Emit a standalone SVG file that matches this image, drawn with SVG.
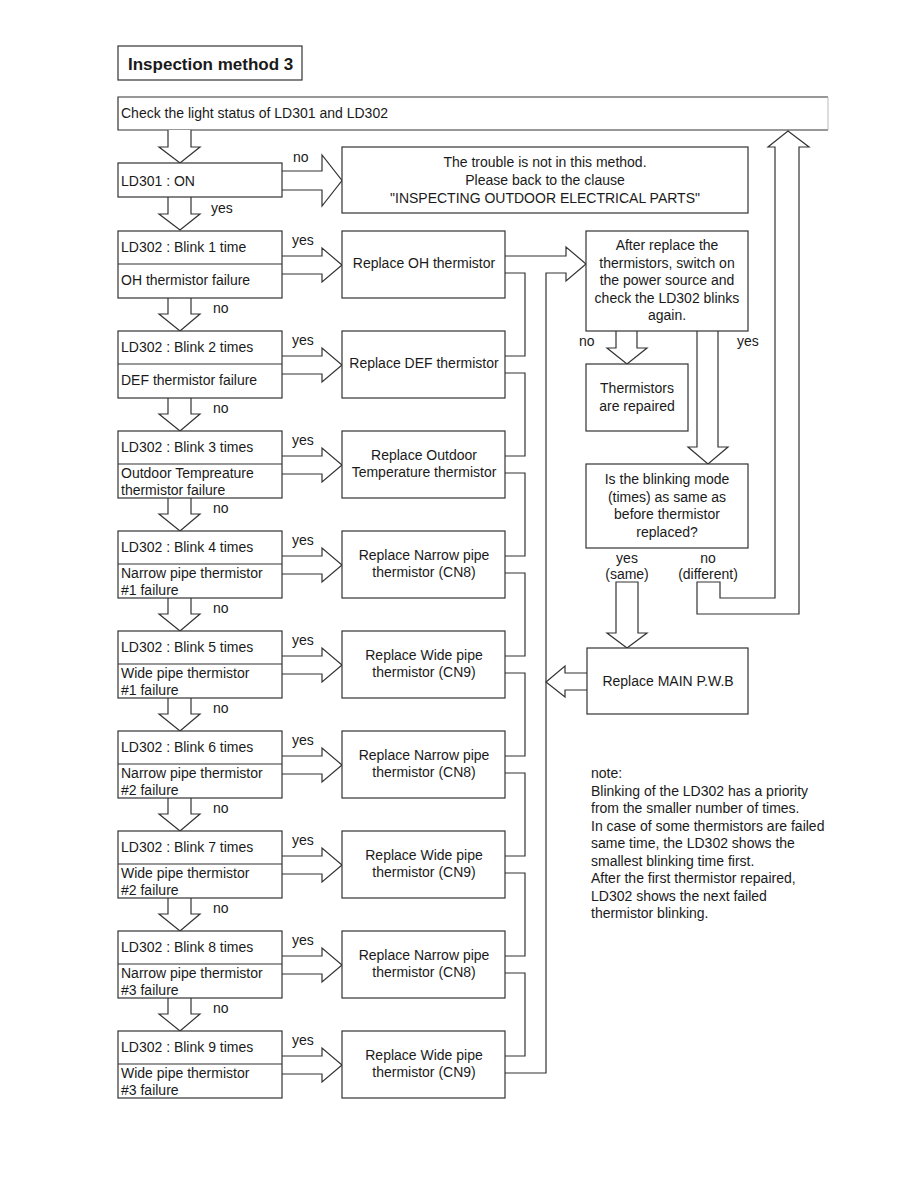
<svg xmlns="http://www.w3.org/2000/svg" width="918" height="1188" viewBox="0 0 918 1188">
<style>
.b{fill:#fff;stroke:#333;stroke-width:1.2}
.ln{fill:none;stroke:#333;stroke-width:1.2}
.ar{fill:#fff;stroke:#333;stroke-width:1.2;stroke-linejoin:miter}
text{font-family:"Liberation Sans",Arial,Helvetica,sans-serif;font-size:14px;fill:#1a1a1a}
.c{text-anchor:middle}
.title{font-size:17px;font-weight:bold}
</style>
<rect width="918" height="1188" fill="#fff"/>

<g id="title">
<rect class="b" x="118" y="46" width="184" height="34"/>
<text class="title" x="128" y="70">Inspection method 3</text>
</g>

<g id="check">
<rect x="118" y="97" width="710" height="33" fill="#fff"/>
<path class="ln" d="M828,97 H118 V130 H828"/>
<path d="M828,97 V130" fill="none" stroke="#bbb" stroke-width="1"/>
<text x="121" y="118">Check the light status of LD301 and LD302</text>
</g>

<g id="connectors">
<path class="ar" d="M168,130 V147 H159 L180,163 L200,147 H191 V130"/>
<path class="ar" d="M282,171 H322 V155 L342,180.5 L322,206 V190 H282"/>
<text x="293" y="162">no</text>
<path class="ar" d="M168,197 V214 H159 L180,230 L200,214 H191 V197"/>
<text x="211" y="213">yes</text>

<path class="ar" d="M282,256 H322 V248 L342,265 L322,282 V274 H282"/>
<path class="ar" d="M282,356 H322 V348 L342,365 L322,382 V374 H282"/>
<path class="ar" d="M282,456 H322 V448 L342,465 L322,482 V474 H282"/>
<path class="ar" d="M282,556 H322 V548 L342,565 L322,582 V574 H282"/>
<path class="ar" d="M282,656 H322 V648 L342,665 L322,682 V674 H282"/>
<path class="ar" d="M282,756 H322 V748 L342,765 L322,782 V774 H282"/>
<path class="ar" d="M282,856 H322 V848 L342,865 L322,882 V874 H282"/>
<path class="ar" d="M282,956 H322 V948 L342,965 L322,982 V974 H282"/>
<path class="ar" d="M282,1056 H322 V1048 L342,1065 L322,1082 V1074 H282"/>
<text x="292" y="245">yes</text>
<text x="292" y="345">yes</text>
<text x="292" y="445">yes</text>
<text x="292" y="545">yes</text>
<text x="292" y="645">yes</text>
<text x="292" y="745">yes</text>
<text x="292" y="845">yes</text>
<text x="292" y="945">yes</text>
<text x="292" y="1045">yes</text>

<path class="ar" d="M168,298 V314 H159 L180,331 L200,314 H191 V298"/>
<path class="ar" d="M168,398 V414 H159 L180,431 L200,414 H191 V398"/>
<path class="ar" d="M168,498 V514 H159 L180,531 L200,514 H191 V498"/>
<path class="ar" d="M168,598 V614 H159 L180,631 L200,614 H191 V598"/>
<path class="ar" d="M168,698 V714 H159 L180,731 L200,714 H191 V698"/>
<path class="ar" d="M168,798 V814 H159 L180,831 L200,814 H191 V798"/>
<path class="ar" d="M168,898 V914 H159 L180,931 L200,914 H191 V898"/>
<path class="ar" d="M168,998 V1014 H159 L180,1031 L200,1014 H191 V998"/>
<text x="213" y="313">no</text>
<text x="213" y="413">no</text>
<text x="213" y="513">no</text>
<text x="213" y="613">no</text>
<text x="213" y="713">no</text>
<text x="213" y="813">no</text>
<text x="213" y="913">no</text>
<text x="213" y="1013">no</text>

<path class="ln" d="M505,256 H566 V247 L586,264 L566,281 V273 H546 V1073 H505"/>
<path class="ln" d="M505,273 H525 V356 H505"/>
<path class="ln" d="M505,373 H525 V456 H505"/>
<path class="ln" d="M505,473 H525 V556 H505"/>
<path class="ln" d="M505,573 H525 V656 H505"/>
<path class="ln" d="M505,673 H525 V756 H505"/>
<path class="ln" d="M505,773 H525 V856 H505"/>
<path class="ln" d="M505,873 H525 V956 H505"/>
<path class="ln" d="M505,973 H525 V1056 H505"/>

<path class="ar" d="M616,331 V348 H607 L627,364 L647,348 H637 V331"/>
<text x="579" y="346">no</text>
<path class="ar" d="M697,331 V447 H688 L708,464 L728,447 H718 V331"/>
<text x="737" y="346">yes</text>

<text class="c" x="627" y="563">yes</text>
<text class="c" x="627" y="579">(same)</text>
<text class="c" x="708" y="563">no</text>
<text class="c" x="708" y="579">(different)</text>
<path class="ar" d="M616,582 H638 V633 H647 L627,648 L607,633 H616 Z"/>
<path class="ln" d="M697,582 H720 V598 H775 V147 H768 L788,131 L809,147 H799 V614 H697 Z"/>
<path class="ar" d="M587,673 H565 V666 L546,682 L565,697 V690 H587"/>
</g>

<g id="ld301">
<rect class="b" x="118" y="163" width="164" height="34"/>
<text x="121" y="186">LD301 : ON</text>
</g>

<g id="trouble">
<rect class="b" x="342" y="147" width="406" height="66"/>
<text class="c" x="545" y="167">The trouble is not in this method.</text>
<text class="c" x="545" y="185">Please back to the clause</text>
<text class="c" x="545" y="203">"INSPECTING OUTDOOR ELECTRICAL PARTS"</text>
</g>

<g id="row1">
<rect class="b" x="118" y="231" width="164" height="67"/><path class="ln" d="M118,264 H282"/>
<text x="121" y="252">LD302 : Blink 1 time</text>
<text x="121" y="285">OH thermistor failure</text>
</g>
<g id="rep1"><rect class="b" x="342" y="231" width="163" height="67"/><text class="c" x="424" y="268">Replace OH thermistor</text></g>

<g id="row2">
<rect class="b" x="118" y="331" width="164" height="67"/><path class="ln" d="M118,364 H282"/>
<text x="121" y="352">LD302 : Blink 2 times</text>
<text x="121" y="385">DEF thermistor failure</text>
</g>
<g id="rep2"><rect class="b" x="342" y="331" width="163" height="67"/><text class="c" x="424" y="368">Replace DEF thermistor</text></g>

<g id="row3">
<rect class="b" x="118" y="431" width="164" height="67"/><path class="ln" d="M118,464 H282"/>
<text x="121" y="452">LD302 : Blink 3 times</text>
<text x="121" y="478">Outdoor Tempreature</text>
<text x="121" y="495">thermistor failure</text>
</g>
<g id="rep3"><rect class="b" x="342" y="431" width="163" height="67"/><text class="c" x="424" y="459.5">Replace Outdoor</text><text class="c" x="424" y="477">Temperature thermistor</text></g>

<g id="row4">
<rect class="b" x="118" y="531" width="164" height="67"/><path class="ln" d="M118,564 H282"/>
<text x="121" y="552">LD302 : Blink 4 times</text>
<text x="121" y="578">Narrow pipe thermistor</text>
<text x="121" y="595">#1 failure</text>
</g>
<g id="rep4"><rect class="b" x="342" y="531" width="163" height="67"/><text class="c" x="424" y="559.5">Replace Narrow pipe</text><text class="c" x="424" y="577">thermistor (CN8)</text></g>

<g id="row5">
<rect class="b" x="118" y="631" width="164" height="67"/><path class="ln" d="M118,664 H282"/>
<text x="121" y="652">LD302 : Blink 5 times</text>
<text x="121" y="678">Wide pipe thermistor</text>
<text x="121" y="695">#1 failure</text>
</g>
<g id="rep5"><rect class="b" x="342" y="631" width="163" height="67"/><text class="c" x="424" y="659.5">Replace Wide pipe</text><text class="c" x="424" y="677">thermistor (CN9)</text></g>

<g id="row6">
<rect class="b" x="118" y="731" width="164" height="67"/><path class="ln" d="M118,764 H282"/>
<text x="121" y="752">LD302 : Blink 6 times</text>
<text x="121" y="778">Narrow pipe thermistor</text>
<text x="121" y="795">#2 failure</text>
</g>
<g id="rep6"><rect class="b" x="342" y="731" width="163" height="67"/><text class="c" x="424" y="759.5">Replace Narrow pipe</text><text class="c" x="424" y="777">thermistor (CN8)</text></g>

<g id="row7">
<rect class="b" x="118" y="831" width="164" height="67"/><path class="ln" d="M118,864 H282"/>
<text x="121" y="852">LD302 : Blink 7 times</text>
<text x="121" y="878">Wide pipe thermistor</text>
<text x="121" y="895">#2 failure</text>
</g>
<g id="rep7"><rect class="b" x="342" y="831" width="163" height="67"/><text class="c" x="424" y="859.5">Replace Wide pipe</text><text class="c" x="424" y="877">thermistor (CN9)</text></g>

<g id="row8">
<rect class="b" x="118" y="931" width="164" height="67"/><path class="ln" d="M118,964 H282"/>
<text x="121" y="952">LD302 : Blink 8 times</text>
<text x="121" y="978">Narrow pipe thermistor</text>
<text x="121" y="995">#3 failure</text>
</g>
<g id="rep8"><rect class="b" x="342" y="931" width="163" height="67"/><text class="c" x="424" y="959.5">Replace Narrow pipe</text><text class="c" x="424" y="977">thermistor (CN8)</text></g>

<g id="row9">
<rect class="b" x="118" y="1031" width="164" height="67"/><path class="ln" d="M118,1064 H282"/>
<text x="121" y="1052">LD302 : Blink 9 times</text>
<text x="121" y="1078">Wide pipe thermistor</text>
<text x="121" y="1095">#3 failure</text>
</g>
<g id="rep9"><rect class="b" x="342" y="1031" width="163" height="67"/><text class="c" x="424" y="1059.5">Replace Wide pipe</text><text class="c" x="424" y="1077">thermistor (CN9)</text></g>

<g id="after">
<rect class="b" x="586" y="231" width="162" height="100"/>
<text class="c" x="667" y="250">After replace the</text>
<text class="c" x="667" y="267.5">thermistors, switch on</text>
<text class="c" x="667" y="285">the power source and</text>
<text class="c" x="667" y="302.5">check the LD302 blinks</text>
<text class="c" x="667" y="320">again.</text>
</g>

<g id="repaired">
<rect class="b" x="586" y="364" width="102" height="67"/>
<text class="c" x="637" y="393">Thermistors</text>
<text class="c" x="637" y="411">are repaired</text>
</g>

<g id="same">
<rect class="b" x="586" y="464" width="162" height="84"/>
<text class="c" x="667" y="484">Is the blinking mode</text>
<text class="c" x="667" y="501.5">(times) as same as</text>
<text class="c" x="667" y="519">before thermistor</text>
<text class="c" x="667" y="536.5">replaced?</text>
</g>

<g id="main">
<rect class="b" x="587" y="648" width="161" height="66"/>
<text class="c" x="668" y="686">Replace MAIN P.W.B</text>
</g>

<g id="note">
<text x="591" y="778">note:</text>
<text x="591" y="795.5">Blinking of the LD302 has a priority</text>
<text x="591" y="813">from the smaller number of times.</text>
<text x="591" y="830.5">In case of some thermistors are failed</text>
<text x="591" y="848">same time, the LD302 shows the</text>
<text x="591" y="865.5">smallest blinking time first.</text>
<text x="591" y="883">After the first thermistor repaired,</text>
<text x="591" y="900.5">LD302 shows the next failed</text>
<text x="591" y="918">thermistor blinking.</text>
</g>
</svg>
